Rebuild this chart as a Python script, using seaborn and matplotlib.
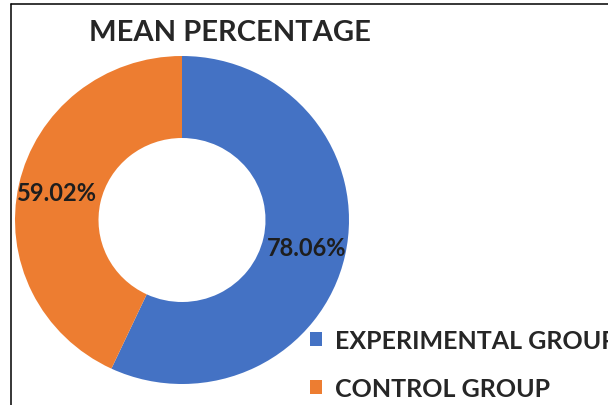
import matplotlib
matplotlib.use("Agg")
import matplotlib.pyplot as plt
from matplotlib.lines import Line2D
from matplotlib.patches import Patch
import numpy as np
import seaborn as sns

# Data
groups = ["EXPERIMENTAL GROUP", "CONTROL GROUP"]
mean_pct = [78.06, 59.02]
title = "MEAN PERCENTAGE"

sns.set_theme(style="white")
plt.rcParams["font.family"] = ["Lato", "DejaVu Sans"]
palette = ["#4472C4", "#ED7D31"]

W, H = 608, 406
fig = plt.figure(figsize=(W / 100, H / 100), dpi=100)

# Donut axes: centre at (182, 221) px, radii 167 x 164 px
cx, cy, rx, ry = 182, 221, 167, 164
ax = fig.add_axes([(cx - rx) / W, (H - cy - ry) / H, 2 * rx / W, 2 * ry / H])
wedges, _ = ax.pie(mean_pct, colors=palette, startangle=90, counterclock=False,
                   radius=1.0, wedgeprops=dict(width=0.5, linewidth=0))
ax.set_xlim(-1, 1)
ax.set_ylim(-1, 1)
ax.set_aspect("auto")
ax.axis("off")

# Value labels at the middle of each ring segment
for w, v in zip(wedges, mean_pct):
    mid = np.deg2rad((w.theta1 + w.theta2) / 2)
    ax.text(0.765 * np.cos(mid), 0.765 * np.sin(mid), f"{v:.2f}%",
            ha="center", va="center", fontsize=17, fontweight="bold",
            color="#1e1e1e")

# Title
fig.text(230 / W, 1 - 33 / H, title, ha="center", va="center",
         fontsize=21, fontweight="bold", color="#262626")

# Legend (runs off the right edge of the figure)
handles = [Patch(facecolor=c, edgecolor="none") for c in palette]
fig.legend(handles, groups, loc="upper left",
           bbox_to_anchor=(310 / W, 1 - 330 / H), frameon=False,
           prop=dict(size=18, weight="bold"), labelcolor="#262626",
           handlelength=0.5, handleheight=0.5, handletextpad=0.5,
           labelspacing=1.0, borderaxespad=0, borderpad=0)

# Frame lines along the top and left edges
fig.add_artist(Line2D([11 / W, 1], [1 - 5 / H, 1 - 5 / H], color="black", lw=1.1,
                      transform=fig.transFigure))
fig.add_artist(Line2D([11 / W, 11 / W], [0, 1 - 5 / H], color="black", lw=1.1,
                      transform=fig.transFigure))

fig.savefig("out.png", dpi=100, facecolor="white")
